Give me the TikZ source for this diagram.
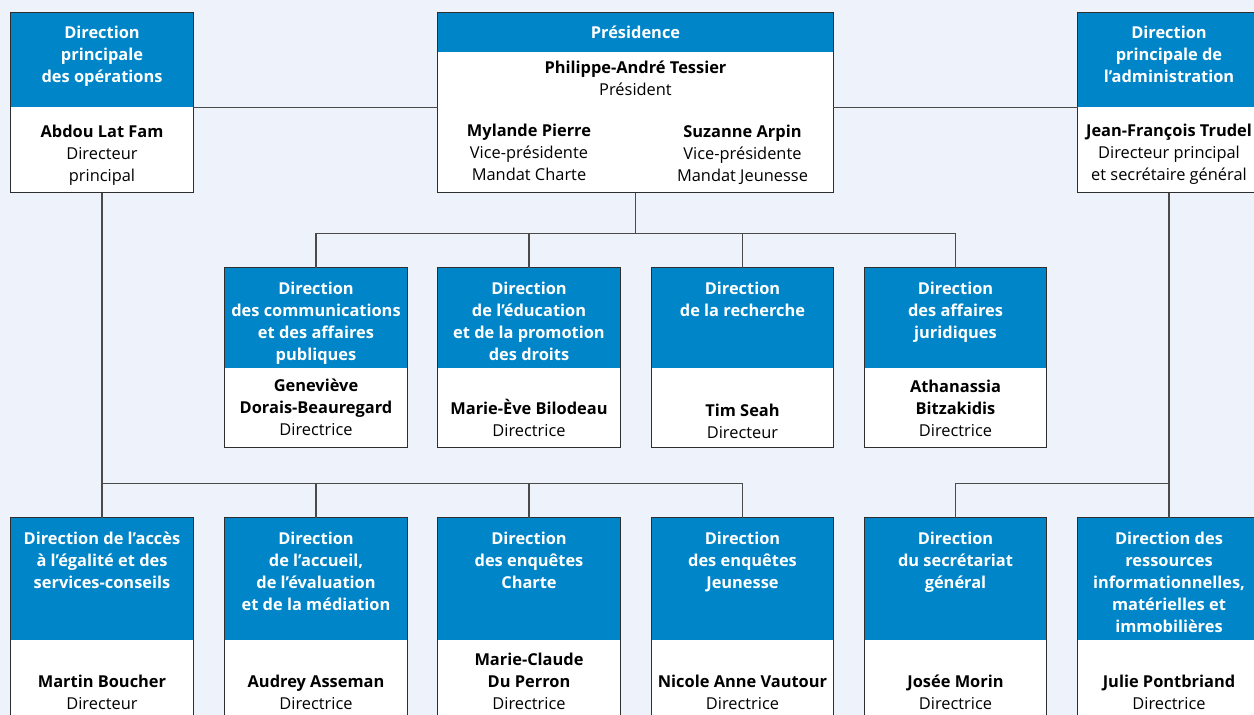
\documentclass[tikz,border=0pt]{standalone}
\usepackage{fontspec}
\setmainfont{Open Sans}
\usepackage{tikz}
\usetikzlibrary{positioning, calc}
\definecolor{bgblue}{HTML}{EEF3FB}
\definecolor{hdrblue}{HTML}{0086C8}
\definecolor{edgegray}{HTML}{2E2E2E}
\definecolor{linkgray}{HTML}{4A4A4A}
\newcommand\orgfont{\fontsize{16.4}{22}\selectfont}

\begin{document}
\begin{tikzpicture}[
  x=1pt, y=-1pt,
  head/.style={rectangle, fill=hdrblue, minimum width=182pt, inner sep=0pt},
  body/.style={rectangle, fill=white, minimum width=182pt, inner sep=0pt},
  htext/.style={text=white, font=\orgfont\bfseries, align=center, anchor=north, inner sep=0pt},
  btext/.style={font=\orgfont, align=center, anchor=south, inner sep=0pt},
  frame/.style={draw=edgegray, line width=1.3pt},
  link/.style={draw=linkgray, line width=1.2pt}
]
  \useasboundingbox (0,0) rectangle (1254,715);
  \fill[bgblue] (0,0) rectangle (1254,715);

  % top row
  \node[head, minimum height=94pt] (opsH) at (102,60) {};
  \node[body, minimum height=85pt, below=0pt of opsH] (opsB) {};
  \node[head, minimum width=395pt, minimum height=39pt] (presH) at (635.5,32.5) {};
  \node[body, minimum width=395pt, minimum height=140pt, below=0pt of presH] (presB) {};
  \node[head, minimum height=94pt] (admH) at (1169,60) {};
  \node[body, minimum height=85pt, below=0pt of admH] (admB) {};

  % middle row
  \node[head, minimum height=100pt] (comH) at (316,318) {};
  \node[body, minimum height=79pt, below=0pt of comH] (comB) {};
  \node[head, minimum height=100pt] (eduH) at (529,318) {};
  \node[body, minimum height=79pt, below=0pt of eduH] (eduB) {};
  \node[head, minimum height=100pt] (recH) at (742.5,318) {};
  \node[body, minimum height=79pt, below=0pt of recH] (recB) {};
  \node[head, minimum height=100pt] (jurH) at (955.5,318) {};
  \node[body, minimum height=79pt, below=0pt of jurH] (jurB) {};

  % bottom row
  \node[head, minimum height=122pt] (egaH) at (102,579) {};
  \node[body, minimum height=80pt, below=0pt of egaH] (egaB) {};
  \node[head, minimum height=122pt] (accH) at (316,579) {};
  \node[body, minimum height=80pt, below=0pt of accH] (accB) {};
  \node[head, minimum height=122pt] (chaH) at (529,579) {};
  \node[body, minimum height=80pt, below=0pt of chaH] (chaB) {};
  \node[head, minimum height=122pt] (jeuH) at (742.5,579) {};
  \node[body, minimum height=80pt, below=0pt of jeuH] (jeuB) {};
  \node[head, minimum height=122pt] (secH) at (955.5,579) {};
  \node[body, minimum height=80pt, below=0pt of secH] (secB) {};
  \node[head, minimum height=122pt] (resH) at (1169,579) {};
  \node[body, minimum height=80pt, below=0pt of resH] (resB) {};

  % outlines
  \foreach \b in {ops,pres,adm,com,edu,rec,jur,ega,acc,cha,jeu,sec,res}
    \draw[frame] (\b H.north west) rectangle (\b B.south east);

  % header texts
  \node[htext, below=13pt of opsH.north] (opsT) {Direction\\principale\\des opérations};
  \node[htext, anchor=center, yshift=0.5pt] (presT) at (presH) {Présidence};
  \node[htext, below=13pt of admH.north] (admT) {Direction\\principale de\\l’administration};
  \node[htext, below=14pt of comH.north] (comT) {Direction\\des communications\\et des affaires\\publiques};
  \node[htext, below=14pt of eduH.north] (eduT) {Direction\\de l’éducation\\et de la promotion\\des droits};
  \node[htext, below=14pt of recH.north] (recT) {Direction\\de la recherche};
  \node[htext, below=14pt of jurH.north] (jurT) {Direction\\des affaires\\juridiques};
  \node[htext, below=14pt of egaH.north] (egaT) {Direction de l’accès\\à l’égalité et des\\services-conseils};
  \node[htext, below=14pt of accH.north] (accT) {Direction\\de l’accueil,\\de l’évaluation\\et de la médiation};
  \node[htext, below=14pt of chaH.north] (chaT) {Direction\\des enquêtes\\Charte};
  \node[htext, below=14pt of jeuH.north] (jeuT) {Direction\\des enquêtes\\Jeunesse};
  \node[htext, below=14pt of secH.north] (secT) {Direction\\du secrétariat\\général};
  \node[htext, below=14pt of resH.north] (resT) {Direction des\\ressources\\informationnelles,\\matérielles et\\immobilières};

  % body texts
  \node[btext, above=7pt of opsB.south] (opsN) {\textbf{Abdou Lat Fam}\\Directeur\\principal};
  \node[btext, anchor=north, below=9pt of presB.north] (presN) {\textbf{Philippe-André Tessier}\\Président};
  \node[btext, above=12pt of presB.south -| eduB.south] (presV1) {\textbf{Mylande Pierre}\\Vice-présidente\\Mandat Charte};
  \node[btext, above=8pt of presB.south -| recB.south] (presV2) {\textbf{Suzanne Arpin}\\Vice-présidente\\Mandat Jeunesse};
  \node[btext, above=8pt of admB.south] (admN) {\textbf{Jean-François Trudel}\\Directeur principal\\et secrétaire général};
  \node[btext, above=11.5pt of comB.south] (comN) {\textbf{Geneviève}\\\textbf{Dorais-Beauregard}\\Directrice};
  \node[btext, above=11pt of eduB.south] (eduN) {\textbf{Marie-Ève Bilodeau}\\Directrice};
  \node[btext, above=9pt of recB.south] (recN) {\textbf{Tim Seah}\\Directeur};
  \node[btext, above=11pt of jurB.south] (jurN) {\textbf{Athanassia}\\\textbf{Bitzakidis}\\Directrice};
  \node[btext, above=11pt of egaB.south] (egaN) {\textbf{Martin Boucher}\\Directeur};
  \node[btext, above=11pt of accB.south] (accN) {\textbf{Audrey Asseman}\\Directrice};
  \node[btext, above=11pt of chaB.south] (chaN) {\textbf{Marie-Claude}\\\textbf{Du Perron}\\Directrice};
  \node[btext, above=11pt of jeuB.south] (jeuN) {\textbf{Nicole Anne Vautour}\\Directrice};
  \node[btext, above=11pt of secB.south] (secN) {\textbf{Josée Morin}\\Directrice};
  \node[btext, above=11pt of resB.south] (resN) {\textbf{Julie Pontbriand}\\Directrice};

  % connectors
  \coordinate (busM) at ($(presB.south)+(0,41)$);
  \coordinate (busB) at ($(opsB.south)+(0,291)$);
  \draw[link] (opsH.south east) -- (opsH.south east -| presB.west);
  \draw[link] (presB.east |- admH.south west) -- (admH.south west);
  \draw[link] (presB.south) -- (busM);
  \draw[link] (comH.north) |- (busM) -| (jurH.north);
  \draw[link] (eduH.north) -- (eduH.north |- busM);
  \draw[link] (recH.north) -- (recH.north |- busM);
  \draw[link] (opsB.south) -- (egaH.north);
  \draw[link] (opsB.south |- busB) -| (jeuH.north);
  \draw[link] (accH.north) -- (accH.north |- busB);
  \draw[link] (chaH.north) -- (chaH.north |- busB);
  \draw[link] (admB.south) -- (resH.north);
  \draw[link] (admB.south |- busB) -| (secH.north);
\end{tikzpicture}
\end{document}
